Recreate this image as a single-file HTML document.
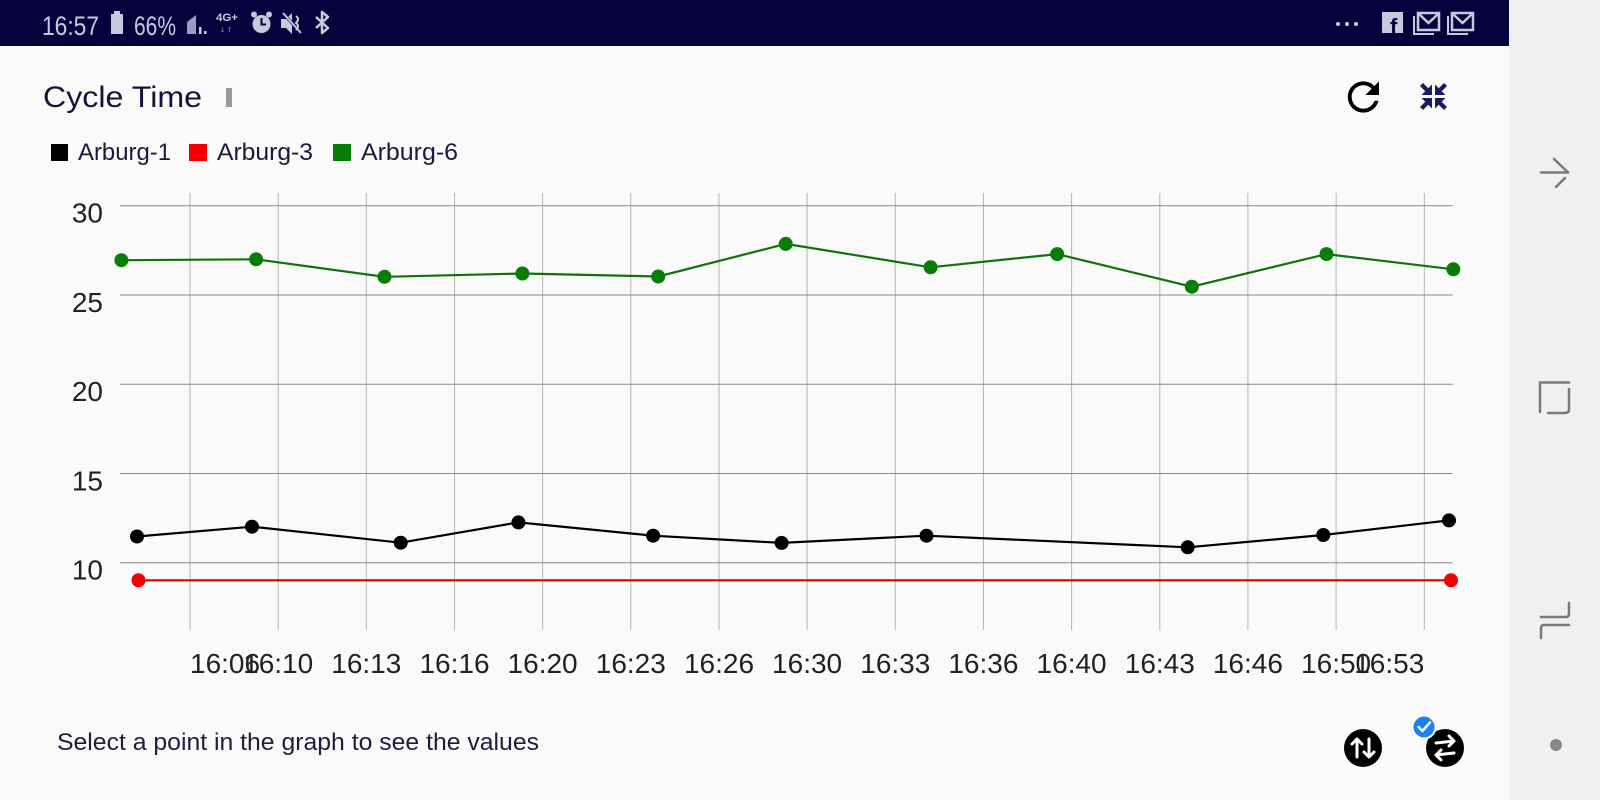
<!DOCTYPE html>
<html>
<head>
<meta charset="utf-8">
<style>
html,body{margin:0;padding:0;width:1600px;height:800px;overflow:hidden;background:#fafafa;}
svg{display:block;font-family:"Liberation Sans",sans-serif;}
</style>
</head>
<body>
<svg width="1600" height="800" viewBox="0 0 1600 800" xmlns="http://www.w3.org/2000/svg">
  <!-- backgrounds -->
  <rect x="0" y="0" width="1600" height="800" fill="#fafafa"/>
  <rect x="1509" y="0" width="91" height="800" fill="#f0f0f0"/>
  <rect x="0" y="0" width="1509" height="46" fill="#03033d"/>

  <!-- status bar left -->
  <g fill="#c9c9dd">
    <text x="42" y="35" font-size="27" textLength="57" lengthAdjust="spacingAndGlyphs">16:57</text>
    <rect x="114" y="11" width="6" height="3"/>
    <rect x="111" y="14" width="12" height="20"/>
    <text x="134" y="35" font-size="27" textLength="42" lengthAdjust="spacingAndGlyphs">66%</text>
    <polygon points="187,34 196,34 196,15 187,22" fill="#9a9ac0"/>
    <rect x="199" y="27" width="2.5" height="7"/>
    <rect x="204" y="31" width="2.5" height="3"/>
    <text x="216" y="21" font-size="11" font-weight="bold" textLength="22" lengthAdjust="spacingAndGlyphs">4G+</text>
    <text x="219" y="32" font-size="9" fill="#8a8ab0" textLength="14" lengthAdjust="spacingAndGlyphs">↓↑</text>
    <circle cx="261.5" cy="24" r="9"/>
    <circle cx="254" cy="14.5" r="3"/>
    <circle cx="269" cy="14.5" r="3"/>
    <path d="M261.5,18 L261.5,24.5 L266,24.5" stroke="#03033d" stroke-width="2" fill="none"/>
    <polygon points="281,19 286,19 292,13 292,34 286,28 281,28"/>
    <path d="M282,12 L302,34" stroke="#03033d" stroke-width="3"/>
    <path d="M283,13 L301,33" stroke="#c9c9dd" stroke-width="2"/>
    <path d="M296,16 Q300,19 296,23 Q300,26 296,30" stroke="#c9c9dd" stroke-width="2" fill="none"/>
    <path d="M316,17 L328,28 L322,33 L322,12 L328,17 L316,28" stroke="#c9c9dd" stroke-width="2.5" fill="none" stroke-linejoin="round"/>
  </g>
  <!-- status bar right -->
  <g fill="#c9c9dd">
    <circle cx="1338" cy="24" r="2"/>
    <circle cx="1347" cy="24" r="2"/>
    <circle cx="1356" cy="24" r="2"/>
    <rect x="1382" y="12" width="21" height="21"/>
    <text x="1390" y="34" font-size="22" font-weight="bold" fill="#03033d">f</text>
    <path d="M1414,16 L1414,34 L1434,34" stroke="#c9c9dd" stroke-width="2" fill="none"/>
    <rect x="1418" y="13" width="21" height="17" fill="none" stroke="#c9c9dd" stroke-width="2.5"/>
    <path d="M1419,14 L1428.5,23 L1438,14" stroke="#c9c9dd" stroke-width="2.5" fill="none"/>
    <path d="M1448,16 L1448,34 L1468,34" stroke="#c9c9dd" stroke-width="2" fill="none"/>
    <rect x="1452" y="13" width="21" height="17" fill="none" stroke="#c9c9dd" stroke-width="2.5"/>
    <path d="M1453,14 L1462.5,23 L1472,14" stroke="#c9c9dd" stroke-width="2.5" fill="none"/>
  </g>

  <!-- right nav bar -->
  <g stroke="#7a7a7a" stroke-width="2.5" fill="none" stroke-linecap="round">
    <path d="M1541,172.5 L1568,172.5"/>
    <path d="M1554,159 L1568,172.5"/>
    <path d="M1556,187 L1565,178"/>
    <path d="M1540,412 L1540,382.5 L1569,382.5"/>
    <path d="M1569,389 L1569,409 Q1569,413 1565,413 L1548,413"/>
    <path d="M1569,603 L1569,614 Q1569,617 1566,617 L1541,617"/>
    <path d="M1569,625 L1544,625 Q1541,625 1541,628 L1541,638"/>
  </g>
  <circle cx="1556" cy="745" r="6" fill="#888"/>

  <!-- header -->
  <text x="43" y="107" font-size="30" fill="#14143a" textLength="159" lengthAdjust="spacingAndGlyphs">Cycle Time</text>
  <rect x="226" y="88" width="6" height="19" fill="#9a9a9a"/>

  <!-- refresh icon -->
  <path transform="translate(1340,73.6) scale(1.95)" fill="#000" d="M17.65 6.35C16.2 4.9 14.21 4 12 4c-4.42 0-7.99 3.58-7.99 8s3.57 8 7.99 8c3.73 0 6.84-2.55 7.73-6h-2.08c-.82 2.33-3.04 4-5.65 4-3.31 0-6-2.69-6-6s2.69-6 6-6c1.66 0 3.14.69 4.22 1.78L13 11h7V4l-2.35 2.35z"/>

  <!-- compress icon -->
  <g fill="#1b1b5e" transform="translate(1433.5,96.5)">
    <g><polygon points="-1.5,-1.5 -1.5,-12 -12,-1.5"/><polygon points="-13.5,-10.5 -10.5,-13.5 -4,-7 -7,-4"/></g>
    <g transform="rotate(90)"><polygon points="-1.5,-1.5 -1.5,-12 -12,-1.5"/><polygon points="-13.5,-10.5 -10.5,-13.5 -4,-7 -7,-4"/></g>
    <g transform="rotate(180)"><polygon points="-1.5,-1.5 -1.5,-12 -12,-1.5"/><polygon points="-13.5,-10.5 -10.5,-13.5 -4,-7 -7,-4"/></g>
    <g transform="rotate(270)"><polygon points="-1.5,-1.5 -1.5,-12 -12,-1.5"/><polygon points="-13.5,-10.5 -10.5,-13.5 -4,-7 -7,-4"/></g>
  </g>

  <!-- legend -->
  <rect x="51" y="144" width="17" height="17" fill="#000"/>
  <text x="78" y="160" font-size="24" fill="#1a1a40" textLength="93" lengthAdjust="spacingAndGlyphs">Arburg-1</text>
  <rect x="189" y="144" width="18" height="17" fill="#f00000"/>
  <text x="217" y="160" font-size="24" fill="#1a1a40" textLength="96" lengthAdjust="spacingAndGlyphs">Arburg-3</text>
  <rect x="333" y="144" width="18" height="17" fill="#067d06"/>
  <text x="361" y="160" font-size="24" fill="#1a1a40" textLength="97" lengthAdjust="spacingAndGlyphs">Arburg-6</text>

  <!-- vertical gridlines -->
  <g stroke="#b4b4b4" stroke-width="1">
    <line x1="190" y1="193" x2="190" y2="630"/>
    <line x1="278.2" y1="193" x2="278.2" y2="630"/>
    <line x1="366.3" y1="193" x2="366.3" y2="630"/>
    <line x1="454.5" y1="193" x2="454.5" y2="630"/>
    <line x1="542.6" y1="193" x2="542.6" y2="630"/>
    <line x1="630.8" y1="193" x2="630.8" y2="630"/>
    <line x1="719" y1="193" x2="719" y2="630"/>
    <line x1="807.1" y1="193" x2="807.1" y2="630"/>
    <line x1="895.3" y1="193" x2="895.3" y2="630"/>
    <line x1="983.4" y1="193" x2="983.4" y2="630"/>
    <line x1="1071.6" y1="193" x2="1071.6" y2="630"/>
    <line x1="1159.8" y1="193" x2="1159.8" y2="630"/>
    <line x1="1247.9" y1="193" x2="1247.9" y2="630"/>
    <line x1="1336.1" y1="193" x2="1336.1" y2="630"/>
    <line x1="1424.3" y1="193" x2="1424.3" y2="630"/>
  </g>
  <!-- horizontal gridlines -->
  <g stroke="#8a8a8a" stroke-width="1">
    <line x1="120" y1="205.7" x2="1452.7" y2="205.7"/>
    <line x1="120" y1="295" x2="1452.7" y2="295"/>
    <line x1="120" y1="384.2" x2="1452.7" y2="384.2"/>
    <line x1="120" y1="473.5" x2="1452.7" y2="473.5"/>
    <line x1="120" y1="562.7" x2="1452.7" y2="562.7"/>
  </g>

  <!-- y labels -->
  <g font-size="28" fill="#222" text-anchor="end">
    <text x="103" y="222.7">30</text>
    <text x="103" y="312">25</text>
    <text x="103" y="401.2">20</text>
    <text x="103" y="490.5">15</text>
    <text x="103" y="579.7">10</text>
  </g>

  <!-- x labels -->
  <g font-size="28" fill="#222" text-anchor="middle">
    <text x="190" y="673" text-anchor="start">16:06</text>
    <text x="278.2" y="673">16:10</text>
    <text x="366.3" y="673">16:13</text>
    <text x="454.5" y="673">16:16</text>
    <text x="542.6" y="673">16:20</text>
    <text x="630.8" y="673">16:23</text>
    <text x="719" y="673">16:26</text>
    <text x="807.1" y="673">16:30</text>
    <text x="895.3" y="673">16:33</text>
    <text x="983.4" y="673">16:36</text>
    <text x="1071.6" y="673">16:40</text>
    <text x="1159.8" y="673">16:43</text>
    <text x="1247.9" y="673">16:46</text>
    <text x="1336.1" y="673">16:50</text>
    <text x="1424.3" y="673" text-anchor="end">16:53</text>
  </g>

  <!-- series: Arburg-6 (green) -->
  <polyline fill="none" stroke="#0d740d" stroke-width="2.2" points="121.4,260.2 256.1,259.3 384.5,276.8 522.4,273.5 658.2,276.5 785.7,243.9 930.6,267.3 1057.2,254.1 1191.8,286.7 1326.5,254.1 1453.3,269.3"/>
  <g fill="#067d06">
    <circle cx="121.4" cy="260.2" r="7"/>
    <circle cx="256.1" cy="259.3" r="7"/>
    <circle cx="384.5" cy="276.8" r="7"/>
    <circle cx="522.4" cy="273.5" r="7"/>
    <circle cx="658.2" cy="276.5" r="7"/>
    <circle cx="785.7" cy="243.9" r="7"/>
    <circle cx="930.6" cy="267.3" r="7"/>
    <circle cx="1057.2" cy="254.1" r="7"/>
    <circle cx="1191.8" cy="286.7" r="7"/>
    <circle cx="1326.5" cy="254.1" r="7"/>
    <circle cx="1453.3" cy="269.3" r="7"/>
  </g>

  <!-- series: Arburg-1 (black) -->
  <polyline fill="none" stroke="#000" stroke-width="2.2" points="137,536.5 252,526.7 400.7,542.7 518.4,522.4 653.1,535.7 781.6,542.9 926.5,535.7 1187.7,547.3 1323.3,535 1449,520.4"/>
  <g fill="#000">
    <circle cx="137" cy="536.5" r="7"/>
    <circle cx="252" cy="526.7" r="7"/>
    <circle cx="400.7" cy="542.7" r="7"/>
    <circle cx="518.4" cy="522.4" r="7"/>
    <circle cx="653.1" cy="535.7" r="7"/>
    <circle cx="781.6" cy="542.9" r="7"/>
    <circle cx="926.5" cy="535.7" r="7"/>
    <circle cx="1187.7" cy="547.3" r="7"/>
    <circle cx="1323.3" cy="535" r="7"/>
    <circle cx="1449" cy="520.4" r="7"/>
  </g>

  <!-- series: Arburg-3 (red) -->
  <line x1="138.5" y1="580.3" x2="1451" y2="580.3" stroke="#d80000" stroke-width="2.2"/>
  <circle cx="138.5" cy="580.3" r="7" fill="#f00000"/>
  <circle cx="1451" cy="580.3" r="7" fill="#f00000"/>

  <!-- footer text -->
  <text x="57" y="750" font-size="24" fill="#1e1e3c" textLength="482" lengthAdjust="spacingAndGlyphs">Select a point in the graph to see the values</text>

  <!-- footer icons -->
  <circle cx="1363" cy="748" r="19" fill="#000"/>
  <g stroke="#fff" stroke-width="3" fill="none" stroke-linecap="round" stroke-linejoin="round">
    <path d="M1357,757 L1357,739 M1352,744 L1357,739 L1362,744"/>
    <path d="M1369,739 L1369,757 M1364,752 L1369,757 L1374,752"/>
  </g>
  <circle cx="1445" cy="748" r="19" fill="#000"/>
  <g stroke="#fff" stroke-width="3" fill="none" stroke-linecap="round" stroke-linejoin="round">
    <path d="M1436,743 L1454,741 M1449,736 L1454,741 L1449,746"/>
    <path d="M1454,753 L1436,755 M1441,750 L1436,755 L1441,760"/>
  </g>
  <circle cx="1424" cy="727" r="11.5" fill="#1b82ef" stroke="#fff" stroke-width="2"/>
  <path d="M1418.5,727 L1422.5,731 L1430,722.5" stroke="#fff" stroke-width="2.5" fill="none" stroke-linecap="round" stroke-linejoin="round"/>
</svg>
</body>
</html>
